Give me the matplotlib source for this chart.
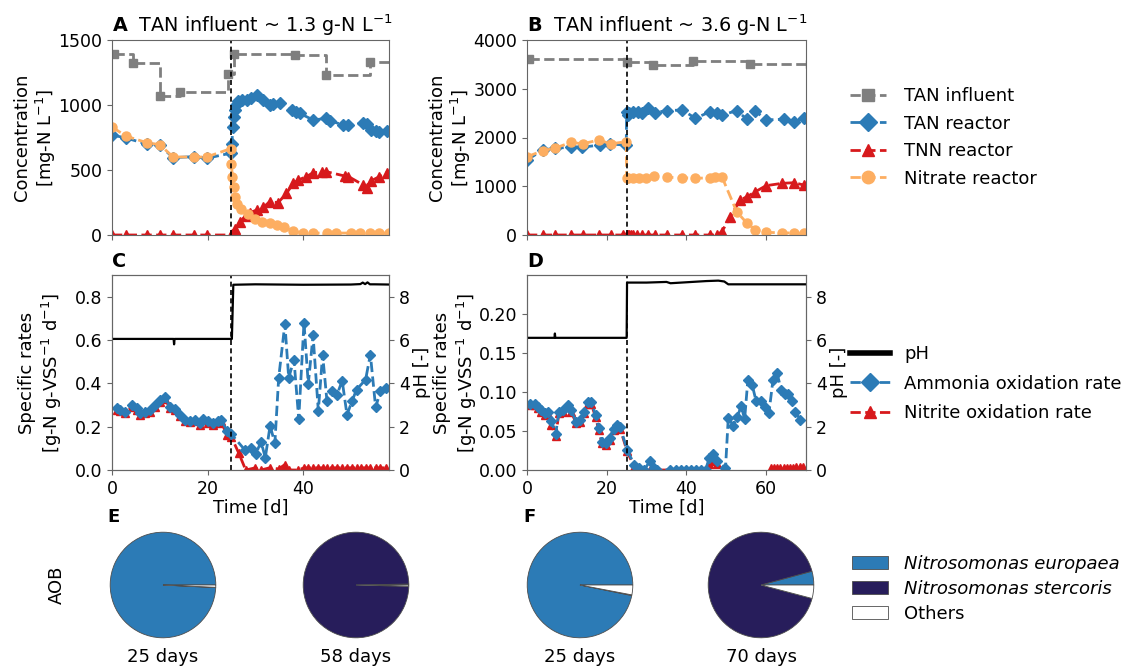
import matplotlib
matplotlib.use("Agg")
import matplotlib.pyplot as plt
from matplotlib.lines import Line2D
from matplotlib.patches import Patch

W, H = 1131, 666
GRAY, BLUE, RED, ORANGE, NAVY = "#7f7f7f", "#2c7bb6", "#d7191c", "#fdae61", "#271d5b"
nan = float("nan")

plt.rcParams.update({
    "font.family": "DejaVu Sans", "font.size": 13, "axes.titlesize": 13.8,
    "xtick.labelsize": 12.5, "ytick.labelsize": 12.5,
    "axes.linewidth": 0.8, "axes.edgecolor": "0.4",
    "xtick.color": "0.4", "ytick.color": "0.4",
    "xtick.labelcolor": "black", "ytick.labelcolor": "black",
})

# ---- panel A: TAN influent ~1.3 g-N/L (mg-N/L) ----
a_infl_t = [0.5, 4.3, 10.0, 14.2, 24.2, 25.6, 38.3, 44.9, 54.0, 59.0]
a_infl_v = [1390, 1320, 1070, 1100, 1240, 1395, 1385, 1230, 1330, 1330]
a_tan_t = [0, 3, 7.3, 10, 12.8, 17.2, 19.8, 24.9, 25.1, 25.3, 25.5, 25.7, 26.0,
           26.4, 27.2, 28.2, 29.2, 30.3, 31.7, 33.0, 33.8, 35.1, 37.6, 38.5,
           39.3, 42.1, 44.9, 45.6, 48.4, 49.4, 52.6, 53.3, 54.3, 55.2, 56.0, 57.5]
a_tan_v = [770, 745, 700, 690, 595, 603, 590, 630, 700, 830, 910, 960, 1000,
           1030, 1040, 1038, 1051, 1077, 1038, 1000, 1010, 1018, 961, 950,
           936, 885, 897, 880, 846, 846, 859, 855, 808, 800, 795, 800]
a_tnn_t = [0, 3, 7.3, 10, 12.8, 17.2, 19.8, 24.9, 25.2, 25.8, 26.8, 28.0, 28.9,
           30.3, 31.7, 33.0, 34.8, 36.5, 38.0, 39.0, 40.7, 42.1, 44.0, 44.9,
           48.7, 49.5, 52.6, 53.3, 54.3, 56.0, 57.5]
a_tnn_v = [0, 0, 0, 0, 0, 0, 0, 0, 10, 50, 100, 150, 172,
           192, 213, 256, 249, 320, 397, 423, 449, 479, 485, 487,
           454, 450, 385, 364, 418, 449, 479]
a_no3_t = [0, 3, 7.3, 10, 12.8, 17.2, 19.8, 24.9, 25.0, 25.2, 25.5, 25.8, 26.2,
           27.0, 28.5, 30.0, 31.5, 33.0, 34.5, 36.0, 38.0, 40.0, 42.0, 45.0,
           47.0, 50.0, 52.0, 54.0, 56.0, 58.0]
a_no3_v = [830, 760, 710, 695, 600, 600, 600, 665, 550, 450, 370, 290, 240,
           200, 160, 120, 100, 90, 80, 60, 30, 15, 15, 15,
           15, 15, 15, 15, 15, 15]

# ---- panel B: TAN influent ~3.6 g-N/L ----
b_infl_t = [0.5, 25.0, 31.7, 41.6, 56.0, 71.0]
b_infl_v = [3610, 3540, 3490, 3575, 3500, 3500]
b_tan_t = [0, 4, 7, 11, 13.7, 18.3, 20.8, 24.9, 25.0, 25.3, 25.7, 26.7, 27.9,
           28.8, 30.4, 32.1, 35.0, 39.0, 42.2, 46.0, 47.6, 48.9, 52.6, 55.2,
           57.3, 60.0, 64.4, 66.9, 69.4]
b_tan_v = [1540, 1745, 1780, 1800, 1800, 1845, 1865, 1845, 2530, 2460, 2495,
           2530, 2530, 2495, 2600, 2510, 2550, 2565, 2395, 2530, 2510, 2460,
           2550, 2375, 2545, 2360, 2375, 2325, 2395]
b_tnn_t = [0, 4, 7, 11, 14, 18, 21, 24, 25.0, 25.3, 25.7, 26.2, 26.7, 27.5,
           28.8, 30.4, 32.1, 35.0, 39.0, 42.2, 46.0, 47.6, 48.9, 51.0, 53.5,
           55.2, 57.3, 60.0, 64.0, 67.0, 69.4]
b_tnn_v = [0, 0, 0, 0, 0, 0, 0, 0, 0, 0, 0, 0, 0, 0,
           0, 0, 0, 0, 0, 0, 0, 0, 68, 376, 718,
           786, 889, 1012, 1060, 1073, 1026]
b_no3_t = [0, 4, 7, 11, 14, 18, 21, 24.9, 25.0, 25.4, 26.5, 28.2, 29.9, 31.9,
           35.0, 39.0, 42.2, 46.0, 47.2, 48.9, 52.6, 55.2, 57.3, 60.0, 64.0,
           67.0, 69.4]
b_no3_v = [1605, 1730, 1780, 1900, 1870, 1950, 1870, 1915, 1160, 1165, 1175,
           1170, 1165, 1210, 1185, 1175, 1165, 1170, 1195, 1195, 480, 240, 105,
           55, 45, 40, 35]

# ---- panel C: specific rates (g-N g-VSS-1 d-1) and pH ----
c_aor_t = [1.0, 1.7, 2.7, 4.1, 5.2, 5.9, 6.9, 7.9, 9.0, 10.0, 11.1, 12.1, 13.2,
           14.2, 15.3, 16.3, 17.4, 18.4, 19.1, 20.2, 21.2, 22.2, 22.9, 24.0,
           25.0, 27.8, 29.2, 30.1, 31.2, 32.1, 33.1, 34.1, 34.9, 36.2, 37.0,
           38.1, 39.1, 40.2, 41.1, 42.1, 43.2, 44.1, 45.0, 46.1, 47.1, 48.2,
           49.2, 50.3, 51.2, 53.1, 54.1, 55.2, 56.2, 57.3]
c_aor_v = [0.286, 0.278, 0.270, 0.301, 0.286, 0.263, 0.270, 0.278, 0.301,
           0.324, 0.337, 0.293, 0.283, 0.255, 0.232, 0.227, 0.232, 0.216,
           0.236, 0.224, 0.216, 0.224, 0.232, 0.182, 0.165, 0.093, 0.103,
           0.073, 0.131, 0.057, 0.204, 0.124, 0.425, 0.675, 0.425, 0.510,
           0.235, 0.680, 0.397, 0.622, 0.273, 0.533, 0.320, 0.363, 0.347,
           0.412, 0.255, 0.320, 0.371, 0.417, 0.533, 0.289, 0.363, 0.378]
c_nor_t = [1.0, 1.7, 2.7, 4.1, 5.2, 5.9, 6.9, 7.9, 9.0, 10.0, 11.1, 12.1, 13.2,
           14.2, 15.3, 16.3, 17.4, 18.4, 19.1, 20.2, 21.2, 22.2, 22.9, 24.0,
           25.0, 26.5, 28.0, 30.0, 31.2, 33.0, 34.9, 36.2, 37.0, 39.0, 40.2,
           41.1, 42.1, 43.2, 44.1, 45.0, 46.1, 47.1, 48.2, 49.2, 50.3, 51.2,
           52.1, 53.1, 54.1, 55.2, 56.2, 57.3]
c_nor_v = [0.279, 0.271, 0.262, 0.293, 0.279, 0.255, 0.262, 0.270, 0.293,
           0.316, 0.330, 0.285, 0.276, 0.247, 0.225, 0.220, 0.225, 0.209,
           0.229, 0.217, 0.209, 0.217, 0.225, 0.160, 0.152, 0.080, 0.0,
           0.010, 0.0, 0.010, 0.005, 0.025, 0.0, 0.0, 0.010, 0.010, 0.010,
           0.010, 0.010, 0.010, 0.010, 0.010, 0.010, 0.010, 0.010, 0.010,
           0.010, 0.010, 0.010, 0.010, 0.010, 0.010]
c_ph_t = [0, 12.9, 13.0, 13.1, 24.9, 25.1, 25.4, 30, 40, 50, 52, 52.5, 53,
          53.5, 54, 55, 58]
c_ph_v = [6.05, 6.05, 5.8, 6.05, 6.05, 6.05, 8.55, 8.57, 8.55, 8.56, 8.58,
          8.65, 8.58, 8.66, 8.57, 8.57, 8.56]

# ---- panel D ----
d_aor_t = [0.7, 1.9, 2.75, 3.6, 4.4, 5.25, 6.1, 7.2, 8.0, 9.0, 10.25, 11.1,
           12.3, 13.2, 14.2, 15.25, 16.1, 17.2, 18.0, 18.8, 19.7, 20.7, 21.75,
           22.6, 23.4, 25.1, 26.9, 28.0, 29.4, 30.9, 31.9, 32.6, 36.0, 37.3,
           38.6, 39.8, 41.1, 42.3, 43.6, 44.8, 45.7, 46.75, 47.75, 49.8, 50.5,
           51.7, 52.75, 53.75, 54.6, 55.4, 56.5, 57.5, 58.6, 59.7, 60.7, 61.7,
           62.75, 63.75, 64.7, 65.5, 66.5, 67.3, 68.6]
d_aor_v = [0.085, 0.085, 0.081, 0.077, 0.073, 0.075, 0.063, 0.046, 0.075,
           0.077, 0.083, 0.077, 0.062, 0.064, 0.075, 0.087, 0.087, 0.071,
           0.054, 0.036, 0.034, 0.041, 0.053, 0.058, 0.055, 0.026, 0.007,
           0.003, 0.0, 0.012, 0.003, 0.0, 0.0, 0.0, 0.0, 0.0, 0.0, 0.0, 0.0,
           0.0, 0.015, 0.021, 0.011, 0.002, 0.067, 0.057, 0.068, 0.082, 0.065,
           0.115, 0.109, 0.088, 0.088, 0.081, 0.073, 0.115, 0.124, 0.103,
           0.097, 0.098, 0.088, 0.075, 0.064]
d_nor_t = [0.7, 1.9, 2.75, 3.6, 4.4, 5.25, 6.1, 7.2, 8.0, 9.0, 10.25, 11.1,
           12.3, 13.2, 14.2, 15.25, 16.1, 17.2, 18.0, 18.8, 19.7, 20.7, 21.75,
           22.6, 23.4, 25.1, 26.9, 28.0, 29.4, 30.9, 31.9, 32.6, 36.0, 37.3,
           38.6, 39.8, 41.1, 42.3, 43.6, 44.8, 45.7, 46.75, 47.75, 55.0, 61.2,
           62.0, 62.8, 63.6, 64.4, 65.2, 66.0, 66.8, 67.6, 68.4, 69.2]
d_nor_v = [0.083, 0.083, 0.079, 0.075, 0.070, 0.072, 0.058, 0.043, 0.073,
           0.075, 0.081, 0.075, 0.060, 0.062, 0.073, 0.085, 0.085, 0.068,
           0.051, 0.034, 0.032, 0.039, 0.051, 0.056, 0.053, 0.024, 0.004,
           0.0, 0.0, 0.0, 0.0, 0.0, 0.0, 0.0, 0.0, 0.0, 0.0, 0.0, 0.0, 0.0,
           0.008, 0.012, 0.008, nan, 0.002, 0.002, 0.003, 0.003, 0.003,
           0.003, 0.003, 0.003, 0.004, 0.004, 0.004]
d_ph_t = [0, 6.9, 7.0, 7.1, 25.0, 25.1, 30, 35, 36, 45, 48, 49.5, 50.5, 60, 70]
d_ph_v = [6.1, 6.1, 6.3, 6.1, 6.1, 8.65, 8.65, 8.68, 8.62, 8.72, 8.74, 8.7,
          8.57, 8.57, 8.57]

# ---- pies: AOB community (%) ----
pie_labels = ["Nitrosomonas europaea", "Nitrosomonas stercoris", "Others"]
pie_colors = [BLUE, NAVY, "white"]
pie_days = ["25 days", "58 days", "25 days", "70 days"]
pie_e25 = [99.2, 0.1, 0.7]
pie_e58 = [0.3, 99.3, 0.4]
pie_f25 = [96.8, 0.2, 3.0]
pie_f70 = [4.2, 91.7, 4.1]


def rect(l, t, r, b):
    return [l / W, 1 - b / H, (r - l) / W, (b - t) / H]


fig = plt.figure(figsize=(W / 100, H / 100), dpi=100)
axA = fig.add_axes(rect(112, 40, 389, 235))
axB = fig.add_axes(rect(527, 40, 806, 235))
axC = fig.add_axes(rect(112, 275, 389, 470))
axD = fig.add_axes(rect(527, 275, 806, 470))

DASH = dict(ls="--", lw=2)


def conc(ax, it, iv, tt, tv, nt, nv, ot, ov):
    ax.plot(it, iv, color=GRAY, marker="s", ms=6, drawstyle="steps-post", **DASH)
    ax.plot(tt, tv, color=BLUE, marker="D", ms=6, **DASH)
    ax.plot(nt, nv, color=RED, marker="^", ms=7, **DASH)
    ax.plot(ot, ov, color=ORANGE, marker="o", ms=6.5, **DASH)
    ax.axvline(25, color="k", ls=(0, (3, 2)), lw=1.2)
    ax.tick_params(labelbottom=False)


conc(axA, a_infl_t, a_infl_v, a_tan_t, a_tan_v, a_tnn_t, a_tnn_v, a_no3_t, a_no3_v)
axA.set_xlim(0, 58)
axA.set_ylim(0, 1500)
axA.set_xticks([0, 20, 40])
axA.set_yticks([0, 500, 1000, 1500])
axA.set_ylabel("Concentration\n[mg-N L$^{-1}$]", labelpad=0)
axA.set_title(r"$\mathbf{A}$  TAN influent ~ 1.3 g-N L$^{-1}$", loc="left")

conc(axB, b_infl_t, b_infl_v, b_tan_t, b_tan_v, b_tnn_t, b_tnn_v, b_no3_t, b_no3_v)
axB.set_xlim(0, 70)
axB.set_ylim(0, 4000)
axB.set_xticks([0, 20, 40, 60])
axB.set_yticks([0, 1000, 2000, 3000, 4000])
axB.set_ylabel("Concentration\n[mg-N L$^{-1}$]", labelpad=0)
axB.set_title(r"$\mathbf{B}$  TAN influent ~ 3.6 g-N L$^{-1}$", loc="left")


def rates(ax, at, av, nt, nv, pt, pv, pad):
    ax.plot(at, av, color=BLUE, marker="D", ms=5.5, **DASH)
    ax.plot(nt, nv, color=RED, marker="^", ms=5.5, zorder=1.9, **DASH)
    ax.axvline(25, color="k", ls=(0, (3, 2)), lw=1.2)
    ax.set_xlabel("Time [d]", labelpad=1)
    ax.set_ylabel("Specific rates\n[g-N g-VSS$^{-1}$ d$^{-1}$]", labelpad=pad)
    tw = ax.twinx()
    tw.plot(pt, pv, color="k", lw=1.6)
    tw.set_ylim(0, 9)
    tw.set_yticks([0, 2, 4, 6, 8])
    tw.set_ylabel("pH [-]", labelpad=2)
    return tw


rates(axC, c_aor_t, c_aor_v, c_nor_t, c_nor_v, c_ph_t, c_ph_v, 8)
axC.set_xlim(0, 58)
axC.set_ylim(0, 0.9)
axC.set_xticks([0, 20, 40])
axC.set_yticks([0, 0.2, 0.4, 0.6, 0.8])
axC.set_title("C", loc="left", fontweight="bold")

rates(axD, d_aor_t, d_aor_v, d_nor_t, d_nor_v, d_ph_t, d_ph_v, 0)
axD.set_xlim(0, 70)
axD.set_ylim(0, 0.25)
axD.set_xticks([0, 20, 40, 60])
axD.set_yticks([0, 0.05, 0.10, 0.15, 0.20])
axD.set_title("D", loc="left", fontweight="bold")

# legends
h1 = [Line2D([], [], color=GRAY, marker="s", ms=9, **DASH),
      Line2D([], [], color=BLUE, marker="D", ms=9, **DASH),
      Line2D([], [], color=RED, marker="^", ms=9, **DASH),
      Line2D([], [], color=ORANGE, marker="o", ms=9, **DASH)]
fig.legend(h1, ["TAN influent", "TAN reactor", "TNN reactor", "Nitrate reactor"],
           loc="upper left", bbox_to_anchor=(850 / W, 1 - 87 / H), frameon=False,
           borderpad=0, borderaxespad=0, handlelength=2.0, handletextpad=1.0,
           labelspacing=0.53)
h2 = [Line2D([], [], color="k", lw=4),
      Line2D([], [], color=BLUE, marker="D", ms=9, **DASH),
      Line2D([], [], color=RED, marker="^", ms=9, **DASH)]
fig.legend(h2, ["pH", "Ammonia oxidation rate", "Nitrite oxidation rate"],
           loc="upper left", bbox_to_anchor=(850 / W, 1 - 345 / H), frameon=False,
           borderpad=0, borderaxespad=0, handlelength=2.2, handletextpad=0.8,
           labelspacing=0.65)

# pies
pie_sets = [pie_e25, pie_e58, pie_f25, pie_f70]
centres = [163, 356, 580, 761]
S = 132
for vals, cx, lab in zip(pie_sets, centres, pie_days):
    ax = fig.add_axes(rect(cx - S / 2, 585 - S / 2, cx + S / 2, 585 + S / 2))
    ax.pie(vals, colors=pie_colors, startangle=0, counterclock=True,
           wedgeprops=dict(edgecolor="0.3", linewidth=0.6))
    fig.text(cx / W, 1 - 657 / H, lab, ha="center", va="center")

fig.text(57 / W, 1 - 585 / H, "AOB", rotation=90, ha="center", va="center")
fig.text(107 / W, 1 - 517 / H, "E", fontweight="bold", ha="left", va="center")
fig.text(523 / W, 1 - 517 / H, "F", fontweight="bold", ha="left", va="center")

h3 = [Patch(facecolor=c, edgecolor="0.3", linewidth=0.6) for c in pie_colors]
leg3 = fig.legend(h3, pie_labels, loc="upper left",
                  bbox_to_anchor=(852 / W, 1 - 555 / H), frameon=False,
                  borderpad=0, borderaxespad=0, handlelength=2.0,
                  handletextpad=0.9, labelspacing=0.38)
for t in leg3.get_texts()[:2]:
    t.set_style("italic")

fig.savefig("out.png", dpi=100)
